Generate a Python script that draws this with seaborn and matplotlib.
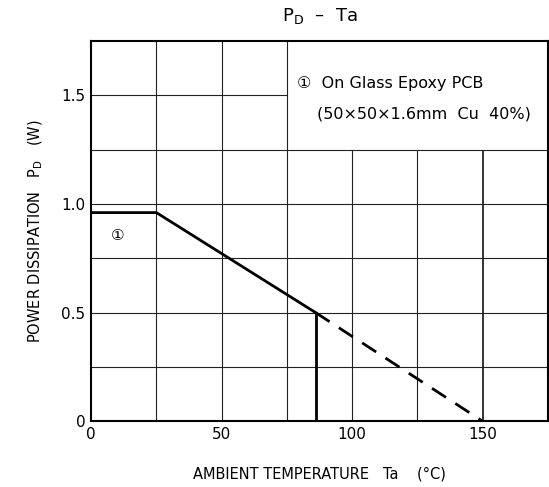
import matplotlib
matplotlib.use("Agg")
import matplotlib.pyplot as plt
import seaborn as sns
import pandas as pd

# derating curve
ta_solid = [0, 25, 86]
pd_solid = [0.96, 0.96, 0.5]
ta_cut = [86, 86]
pd_cut = [0.5, 0]
ta_dash = [86, 150]
pd_dash = [0.5, 0]

x_ticks = [0, 50, 100, 150]
x_labels = ["0", "50", "100", "150"]
y_ticks = [0, 0.5, 1.0, 1.5]
y_labels = ["0", "0.5", "1.0", "1.5"]

sns.set_style("white")
plt.rcParams['font.family'] = ['DejaVu Sans', 'Noto Sans CJK JP']
plt.rcParams['text.color'] = 'black'
plt.rcParams['axes.labelcolor'] = 'black'
plt.rcParams['xtick.color'] = 'black'
plt.rcParams['ytick.color'] = 'black'

fig, ax = plt.subplots(figsize=(5.49, 4.87), dpi=100)
fig.subplots_adjust(left=0.166, right=0.998, top=0.916, bottom=0.135)

ax.set_xlim(0, 175)
ax.set_ylim(0, 1.75)

# grid, leaving the note box area blank
gc = "#222222"
for x in [25, 50, 75]:
    ax.vlines(x, 0, 1.75, color=gc, lw=0.8)
for x in [100, 125, 150]:
    ax.vlines(x, 0, 1.25, color=gc, lw=0.8 if x != 150 else 1.3)
for y in [0.25, 0.5, 0.75, 1.0, 1.25]:
    ax.hlines(y, 0, 175, color=gc, lw=0.8)
ax.hlines(1.5, 0, 75, color=gc, lw=0.8)

df = pd.DataFrame({"Ta": ta_solid, "PD": pd_solid})
sns.lineplot(data=df, x="Ta", y="PD", sort=False, estimator=None,
             color="black", lw=2, ax=ax)
ax.plot(ta_cut, pd_cut, color="black", lw=2)
ax.plot(ta_dash, pd_dash, color="black", lw=2, dashes=(6, 4))

ax.text(79, 1.555, "①  On Glass Epoxy PCB", fontsize=11.5, va="center")
ax.text(86.5, 1.415, "(50×50×1.6mm  Cu  40%)", fontsize=11.5, va="center")
ax.text(10, 0.855, "①", fontsize=11, va="center", ha="center")

ax.set_xticks(x_ticks)
ax.set_xticklabels(x_labels, fontsize=11)
ax.set_yticks(y_ticks)
ax.set_yticklabels(y_labels, fontsize=11)
ax.tick_params(length=0, pad=4)

for s in ax.spines.values():
    s.set_color("black")
    s.set_linewidth(1.5)

ax.set_title(r"P$_\mathregular{D}$  –  Ta", fontsize=13, pad=14)
ax.set_xlabel("AMBIENT TEMPERATURE   Ta    (°C)", fontsize=10.5, labelpad=18)
ax.set_ylabel(r"POWER DISSIPATION   P$_\mathregular{D}$   (W)", fontsize=10.5, labelpad=12)

fig.savefig("out.png", dpi=100)
